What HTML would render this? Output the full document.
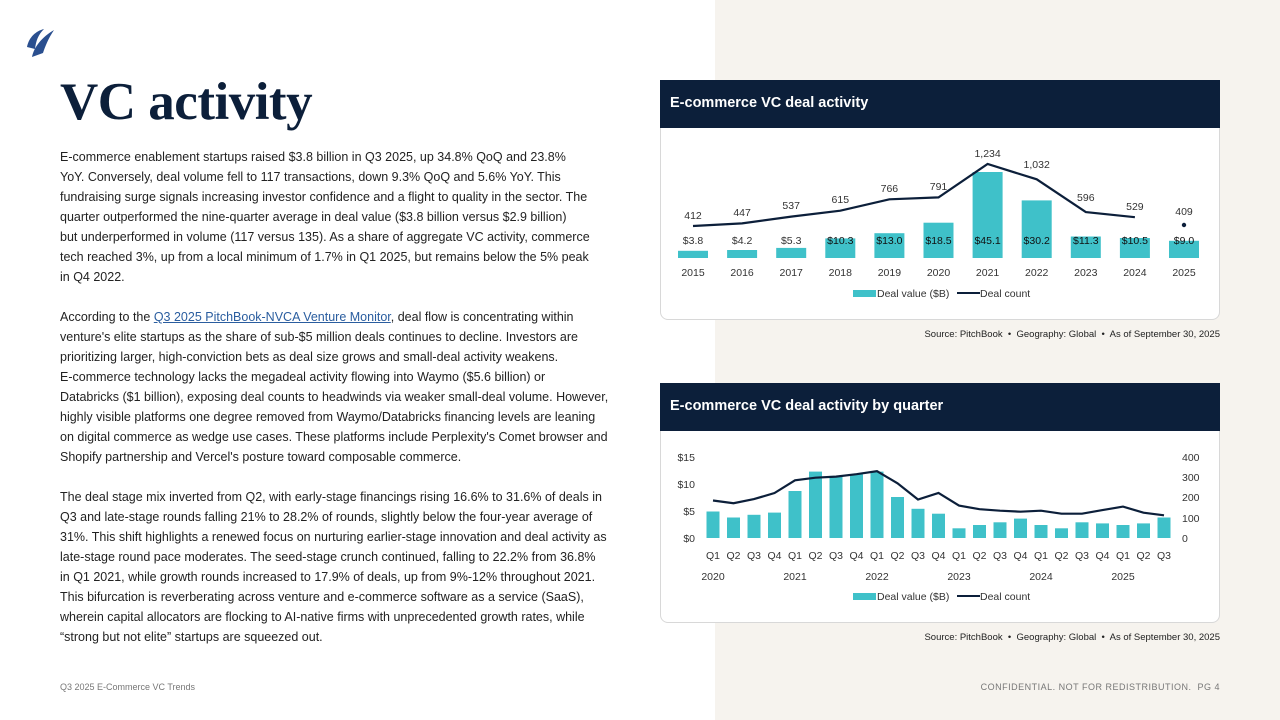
<!DOCTYPE html>
<html><head><meta charset="utf-8"><style>
*{margin:0;padding:0;box-sizing:border-box}
body{width:1280px;height:720px;position:relative;background:#fff;font-family:"Liberation Sans",sans-serif;color:#1a1a1a;overflow:hidden}
.right{position:absolute;left:715px;top:0;width:565px;height:720px;background:#f6f3ee}
.card{position:absolute;left:660px;width:560px;background:#fff;border:1px solid #d8d8d8;border-radius:0 0 8px 8px}
.hdr{position:absolute;left:660px;width:560px;height:48px;background:#0c1f3a;color:#fff;font-weight:bold;font-size:14.5px;padding:15px 10px}
h1{position:absolute;left:60px;top:72px;font-family:"Liberation Serif",serif;font-weight:bold;font-size:53px;color:#0c1f3a;letter-spacing:-0.5px}
.txt{position:absolute;left:60px;top:147px;font-size:12.5px;line-height:20px;white-space:nowrap;color:#222}
.txt a{color:#2a5d9f;text-decoration:underline}
.src{position:absolute;right:60px;font-size:9.5px;color:#222}
.foot{position:absolute;top:682px;font-size:9px;color:#777;letter-spacing:.5px}
</style></head><body>
<div class="right"></div>
<svg style="position:absolute;left:24px;top:27px" width="32" height="32" viewBox="0 0 32 32"><path d="M3 20 C5 10 12 4 20 2 C14 8 12 14 11 22 Z M8 30 C10 20 18 10 30 3 C24 12 21 20 19 26 Z" fill="#2a4f8f"/></svg>
<h1>VC activity</h1>
<div class="txt">E-commerce enablement startups raised $3.8 billion in Q3 2025, up 34.8% QoQ and 23.8%<br>YoY. Conversely, deal volume fell to 117 transactions, down 9.3% QoQ and 5.6% YoY. This<br>fundraising surge signals increasing investor confidence and a flight to quality in the sector. The<br>quarter outperformed the nine-quarter average in deal value ($3.8 billion versus $2.9 billion)<br>but underperformed in volume (117 versus 135). As a share of aggregate VC activity, commerce<br>tech reached 3%, up from a local minimum of 1.7% in Q1 2025, but remains below the 5% peak<br>in Q4 2022.<br><br>According to the <a>Q3 2025 PitchBook-NVCA Venture Monitor</a>, deal flow is concentrating within<br>venture's elite startups as the share of sub-$5 million deals continues to decline. Investors are<br>prioritizing larger, high-conviction bets as deal size grows and small-deal activity weakens.<br>E-commerce technology lacks the megadeal activity flowing into Waymo ($5.6 billion) or<br>Databricks ($1 billion), exposing deal counts to headwinds via weaker small-deal volume. However,<br>highly visible platforms one degree removed from Waymo/Databricks financing levels are leaning<br>on digital commerce as wedge use cases. These platforms include Perplexity's Comet browser and<br>Shopify partnership and Vercel's posture toward composable commerce.<br><br>The deal stage mix inverted from Q2, with early-stage financings rising 16.6% to 31.6% of deals in<br>Q3 and late-stage rounds falling 21% to 28.2% of rounds, slightly below the four-year average of<br>31%. This shift highlights a renewed focus on nurturing earlier-stage innovation and deal activity as<br>late-stage round pace moderates. The seed-stage crunch continued, falling to 22.2% from 36.8%<br>in Q1 2021, while growth rounds increased to 17.9% of deals, up from 9%-12% throughout 2021.<br>This bifurcation is reverberating across venture and e-commerce software as a service (SaaS),<br>wherein capital allocators are flocking to AI-native firms with unprecedented growth rates, while<br>“strong but not elite” startups are squeezed out.</div>

<div class="card" style="top:80px;height:240px"></div>
<div class="hdr" style="top:80px">E-commerce VC deal activity</div>
<div class="card" style="top:383px;height:240px"></div>
<div class="hdr" style="top:383px">E-commerce VC deal activity by quarter</div>
<div class="src" style="top:329px">Source: PitchBook &nbsp;•&nbsp; Geography: Global &nbsp;•&nbsp; As of September 30, 2025</div>
<div class="src" style="top:632px">Source: PitchBook &nbsp;•&nbsp; Geography: Global &nbsp;•&nbsp; As of September 30, 2025</div>
<div class="foot" style="left:60px;letter-spacing:0">Q3 2025 E-Commerce VC Trends</div>
<div class="foot" style="right:60px">CONFIDENTIAL. NOT FOR REDISTRIBUTION. &nbsp;PG 4</div>

<svg style="position:absolute;left:0;top:0" width="1280" height="720" font-family="Liberation Sans, sans-serif" font-size="10.5" fill="#333">
<g fill="#3fc1c9">
<rect x="678" y="250.8" width="30" height="7.2"/><rect x="727.1" y="250" width="30" height="8"/><rect x="776.2" y="247.9" width="30" height="10.1"/><rect x="825.3" y="238.4" width="30" height="19.6"/><rect x="874.4" y="233.2" width="30" height="24.8"/><rect x="923.5" y="222.7" width="30" height="35.3"/><rect x="972.6" y="172" width="30" height="86"/><rect x="1021.7" y="200.4" width="30" height="57.6"/><rect x="1070.8" y="236.5" width="30" height="21.5"/><rect x="1119.9" y="238" width="30" height="20"/><rect x="1169" y="240.8" width="30" height="17.2"/>
</g>
<polyline fill="none" stroke="#0c1f3a" stroke-width="2.2" points="693,226 742.1,223.4 791.2,216.6 840.3,210.7 889.4,199.3 938.5,197.4 987.6,164 1036.7,179.3 1085.8,212.1 1134.9,217.2"/>
<circle cx="1184" cy="225" r="2.2" fill="#0c1f3a"/>
<g text-anchor="middle">
<text x="693" y="219">412</text><text x="742.1" y="216">447</text><text x="791.2" y="209">537</text><text x="840.3" y="203">615</text><text x="889.4" y="192">766</text><text x="938.5" y="190">791</text><text x="987.6" y="157">1,234</text><text x="1036.7" y="168">1,032</text><text x="1085.8" y="201">596</text><text x="1134.9" y="210">529</text><text x="1184" y="215">409</text>
<text x="693" y="244">$3.8</text><text x="742.1" y="244">$4.2</text><text x="791.2" y="244">$5.3</text><text x="840.3" y="244" fill="#111">$10.3</text><text x="889.4" y="244" fill="#111">$13.0</text><text x="938.5" y="244" fill="#111">$18.5</text><text x="987.6" y="244" fill="#111">$45.1</text><text x="1036.7" y="244" fill="#111">$30.2</text><text x="1085.8" y="244" fill="#111">$11.3</text><text x="1134.9" y="244" fill="#111">$10.5</text><text x="1184" y="244" fill="#111">$9.0</text>
<text x="693" y="276">2015</text><text x="742.1" y="276">2016</text><text x="791.2" y="276">2017</text><text x="840.3" y="276">2018</text><text x="889.4" y="276">2019</text><text x="938.5" y="276">2020</text><text x="987.6" y="276">2021</text><text x="1036.7" y="276">2022</text><text x="1085.8" y="276">2023</text><text x="1134.9" y="276">2024</text><text x="1184" y="276">2025</text>
</g>
<rect x="853" y="290" width="23" height="7" fill="#3fc1c9"/><text x="877" y="297">Deal value ($B)</text>
<line x1="957" y1="293" x2="980" y2="293" stroke="#0c1f3a" stroke-width="2"/><text x="980" y="297">Deal count</text>

<g fill="#3fc1c9">
<rect x="706.5" y="511.5" width="13" height="26.5"/><rect x="727" y="517.5" width="13" height="20.5"/><rect x="747.5" y="514.8" width="13" height="23.2"/><rect x="768" y="512.6" width="13" height="25.4"/><rect x="788.5" y="491" width="13" height="47"/><rect x="809" y="471.6" width="13" height="66.4"/><rect x="829.5" y="475.9" width="13" height="62.1"/><rect x="850" y="474.3" width="13" height="63.7"/><rect x="870.5" y="471.6" width="13" height="66.4"/><rect x="891" y="497" width="13" height="41"/><rect x="911.5" y="508.8" width="13" height="29.2"/><rect x="932" y="513.7" width="13" height="24.3"/><rect x="952.5" y="528.3" width="13" height="9.7"/><rect x="973" y="525" width="13" height="13"/><rect x="993.5" y="522.3" width="13" height="15.7"/><rect x="1014" y="518.6" width="13" height="19.4"/><rect x="1034.5" y="525" width="13" height="13"/><rect x="1055" y="528.3" width="13" height="9.7"/><rect x="1075.5" y="522.3" width="13" height="15.7"/><rect x="1096" y="523.4" width="13" height="14.6"/><rect x="1116.5" y="525" width="13" height="13"/><rect x="1137" y="523.4" width="13" height="14.6"/><rect x="1157.5" y="517.5" width="13" height="20.5"/>
</g>
<polyline fill="none" stroke="#0c1f3a" stroke-width="2.2" points="713,500.5 733.5,503.2 754,499.1 774.5,493 795,480.3 815.5,477.7 836,476.6 856.5,474.2 877,471.2 897.5,483.3 918,499.5 938.5,493 959,505.6 979.5,509.2 1000,510.7 1020.5,511.7 1041,510.7 1061.5,513.7 1082,513.7 1102.5,510.1 1123,506.6 1143.5,512.7 1164,515.3"/>
<g text-anchor="end"><text x="695" y="461">$15</text><text x="695" y="488">$10</text><text x="695" y="515">$5</text><text x="695" y="542">$0</text></g>
<g><text x="1182" y="461">400</text><text x="1182" y="481">300</text><text x="1182" y="501">200</text><text x="1182" y="522">100</text><text x="1182" y="542">0</text></g>
<g text-anchor="middle">
<text x="713" y="559">Q1</text><text x="733.5" y="559">Q2</text><text x="754" y="559">Q3</text><text x="774.5" y="559">Q4</text><text x="795" y="559">Q1</text><text x="815.5" y="559">Q2</text><text x="836" y="559">Q3</text><text x="856.5" y="559">Q4</text><text x="877" y="559">Q1</text><text x="897.5" y="559">Q2</text><text x="918" y="559">Q3</text><text x="938.5" y="559">Q4</text><text x="959" y="559">Q1</text><text x="979.5" y="559">Q2</text><text x="1000" y="559">Q3</text><text x="1020.5" y="559">Q4</text><text x="1041" y="559">Q1</text><text x="1061.5" y="559">Q2</text><text x="1082" y="559">Q3</text><text x="1102.5" y="559">Q4</text><text x="1123" y="559">Q1</text><text x="1143.5" y="559">Q2</text><text x="1164" y="559">Q3</text>
<text x="713" y="580">2020</text><text x="795" y="580">2021</text><text x="877" y="580">2022</text><text x="959" y="580">2023</text><text x="1041" y="580">2024</text><text x="1123" y="580">2025</text>
</g>
<rect x="853" y="593" width="23" height="7" fill="#3fc1c9"/><text x="877" y="600">Deal value ($B)</text>
<line x1="957" y1="596" x2="980" y2="596" stroke="#0c1f3a" stroke-width="2"/><text x="980" y="600">Deal count</text>
</svg>
</body></html>
